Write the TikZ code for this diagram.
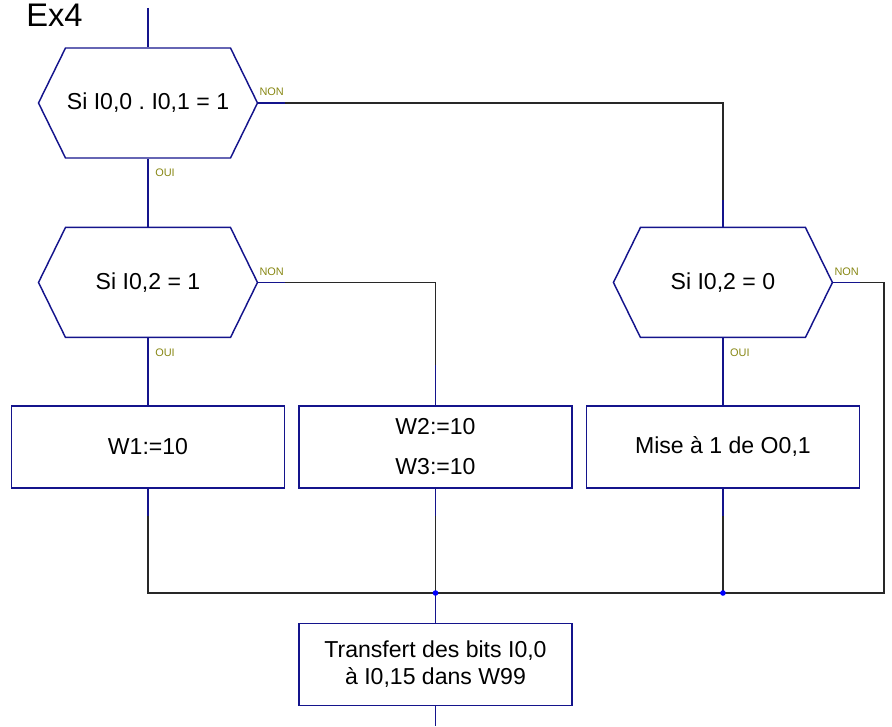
\documentclass[tikz,border=0pt]{standalone}
\usepackage{fontspec}
\setmainfont{Liberation Sans}
\usetikzlibrary{positioning,shapes.symbols}
\definecolor{TraitBleu}{RGB}{20,20,140}
\definecolor{TraitNoir}{RGB}{40,40,40}
\definecolor{EtiqOlive}{RGB}{135,135,20}
\definecolor{PointBleu}{RGB}{0,0,255}
\frenchspacing

\begin{document}
\begin{tikzpicture}[
    x=0.75pt, y=0.75pt,
    test/.style={draw=TraitBleu, line width=1.1pt, signal, signal to=east and west,
                 signal pointer angle=127.7, minimum width=164.25pt, minimum height=82.5pt,
                 inner sep=0pt, font=\fontsize{17.3}{20.5}\selectfont},
    action/.style={draw=TraitBleu, line width=1.1pt, minimum width=204.75pt, minimum height=61.5pt,
                   inner sep=0pt, align=center, font=\fontsize{17.3}{20.5}\selectfont},
    lien/.style={TraitBleu, line width=1.1pt},
    fil/.style={TraitNoir, line width=1.1pt},
    etiq/.style={text=EtiqOlive, font=\fontsize{8.2}{9}\selectfont, inner sep=0pt}
]
    \useasboundingbox (0,0) rectangle (892,726);
    \node[anchor=base west, inner sep=0pt, font=\fontsize{24.5}{28}\selectfont] (titre) at (26,699) {Ex4};

    \node[test] (hexA) at (148,623) {Si I0,0 . I0,1 = 1};
    \node[test, below=51pt of hexA] (hexB) {Si I0,2 = 1};
    \node[action, below=50.25pt of hexB] (boxA) {W1:=10};
    \node[action, right=9.75pt of boxA] (boxB) {W2:=10\\[9.5pt]W3:=10};
    \node[action, right=9.75pt of boxB] (boxC) {Mise à 1 de O0,1};
    \node[test, above=50.25pt of boxC] (hexC) {Si I0,2 = 0};
    \node[action, below=100.5pt of boxB] (boxD) {Transfert des bits I0,0\\à I0,15 dans W99};

    % etiquettes OUI / NON
    \node[etiq, anchor=base west] (nonA) at ([shift={(1,7)}]hexA.east) {NON};
    \node[etiq, anchor=base west] (ouiA) at ([shift={(7,-18)}]hexA.south) {OUI};
    \node[etiq, anchor=base west] (nonB) at ([shift={(1,7)}]hexB.east) {NON};
    \node[etiq, anchor=base west] (ouiB) at ([shift={(7,-18)}]hexB.south) {OUI};
    \node[etiq, anchor=base west] (nonC) at ([shift={(1,7)}]hexC.east) {NON};
    \node[etiq, anchor=base west] (ouiC) at ([shift={(7,-18)}]hexC.south) {OUI};

    \coordinate (haut) at (0,718);
    \coordinate (bas) at (0,0);
    \coordinate (coinD) at (884,133);
    \coordinate (jonctB) at (boxB.south |- coinD);
    \coordinate (jonctC) at (boxC.south |- coinD);

    % liaisons noires
    \draw[fil] (hexA.east) -| (hexC.north);
    \draw[fil] (hexB.east) -| (boxB.north);
    \draw[fil] (hexC.east) -| (coinD) -| (boxA.south);
    \draw[fil] (boxB.south) -- (jonctB);
    \draw[fil] (boxC.south) -- (jonctC);

    % liaisons bleues
    \draw[lien] (hexA.north |- haut) -- (hexA.north);
    \draw[lien] (hexA.south) -- (hexB.north);
    \draw[lien] (hexB.south) -- (boxA.north);
    \draw[lien] (hexC.south) -- (boxC.north);
    \draw[lien] (jonctB) -- (boxD.north);
    \draw[lien] (boxD.south) -- (boxD.south |- bas);
    \draw[lien] (hexA.east) -- ++(27,0);
    \draw[lien] (hexB.east) -- ++(27,0);
    \draw[lien] (hexC.east) -- ++(27,0);
    \draw[lien] (hexC.north) -- ++(0,27);
    \draw[lien] (boxB.north) -- ++(0,40);
    \draw[lien] (boxA.south) -- ++(0,-27);
    \draw[lien] (boxB.south) -- ++(0,-27);
    \draw[lien] (boxC.south) -- ++(0,-27);

    \fill[PointBleu] (jonctB) circle (2.8);
    \fill[PointBleu] (jonctC) circle (2.8);
\end{tikzpicture}
\end{document}
